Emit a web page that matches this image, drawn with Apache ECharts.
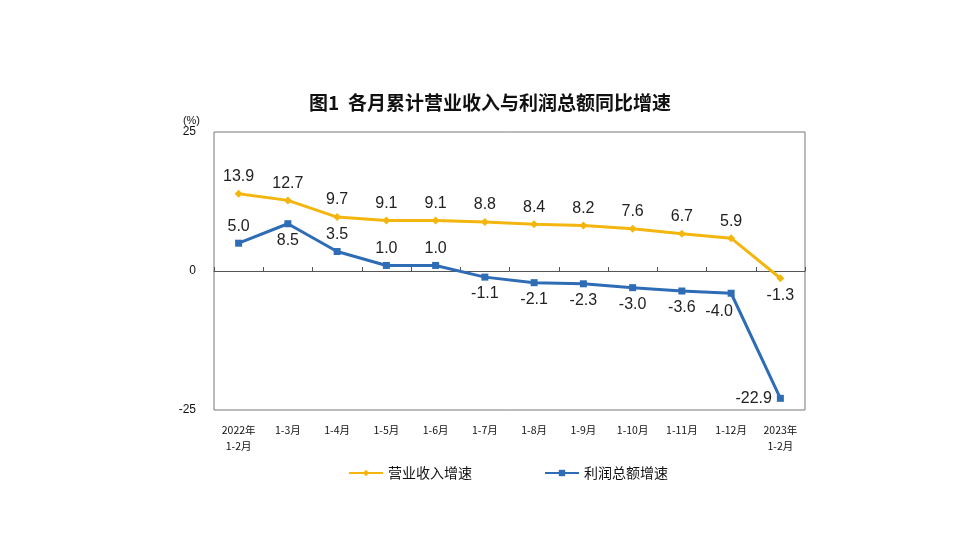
<!DOCTYPE html>
<html>
<head>
<meta charset="utf-8">
<script src="https://cdn.jsdelivr.net/npm/echarts@6/dist/echarts.min.js"></script>
<style>
  html, body { margin: 0; padding: 0; background: #fff; }
  #chart { width: 980px; height: 551px; }
</style>
</head>
<body>
<div id="chart"></div>
<script>
var categories = ["2022年\n1-2月", "1-3月", "1-4月", "1-5月", "1-6月", "1-7月", "1-8月", "1-9月", "1-10月", "1-11月", "1-12月", "2023年\n1-2月"]
var revenueGrowth = [13.9, 12.7, 9.7, 9.1, 9.1, 8.8, 8.4, 8.2, 7.6, 6.7, 5.9, -1.3]
var profitGrowth = [5.0, 8.5, 3.5, 1.0, 1.0, -1.1, -2.1, -2.3, -3.0, -3.6, -4.0, -22.9]
var yTicks = [-25, 0, 25]

// where each label sits relative to its point
var revenueLabelPos = ["top", "top", "top", "top", "top", "top", "top", "top", "top", "top", "top", "bottom"]
var profitLabelPos = ["top", "bottom", "top", "top", "top", "bottom", "bottom", "bottom", "bottom", "bottom", "bottom", "left"]

var font = "'Liberation Sans', Arial, 'Noto Sans CJK SC', sans-serif"
var cjk = "'Noto Sans CJK SC', sans-serif"

function withLabels(values, pos) {
    return values.map(function (v, i) {
        var item = { value: v, label: { position: pos[i] } }
        // -4.0 sits a little to the left of its point
        if (v === -4.0) item.label.offset = [-12, 2]
        return item
    })
}

var chart = echarts.init(document.getElementById("chart"))
chart.setOption({
    animation: false,
    title: {
        text: "图1  各月累计营业收入与利润总额同比增速",
        left: "center",
        top: 88,
        textStyle: { fontFamily: cjk, fontSize: 19, fontWeight: "bold", color: "#111" }
    },
    legend: {
        bottom: 66,
        left: 343,
        itemGap: 72,
        itemWidth: 34,
        itemHeight: 8,
        textStyle: { fontFamily: cjk, fontSize: 14, color: "#111" },
        data: ["营业收入增速", "利润总额增速"]
    },
    grid: {
        left: 214, right: 175, top: 132, bottom: 141,
        show: true,
        borderColor: "#777",
        borderWidth: 1
    },
    xAxis: [
        {
            type: "category",
            data: categories,
            position: "bottom",
            axisLine: { show: false, onZero: false },
            axisTick: { show: false },
            axisLabel: {
                interval: 0, margin: 12, color: "#111",
                fontFamily: cjk, fontSize: 10.5, lineHeight: 16
            }
        },
        {
            type: "category",
            data: categories,
            position: "bottom",
            axisLine: { show: true, onZero: true, lineStyle: { color: "#555", width: 1 } },
            axisTick: { show: true, interval: 0, inside: true, length: 4, lineStyle: { color: "#555" } },
            axisLabel: { show: false, interval: 0 }
        }
    ],
    yAxis: {
        type: "value",
        min: yTicks[0], max: yTicks[2], interval: 25,
        axisLine: { show: false },
        axisTick: { show: false },
        splitLine: { show: false },
        axisLabel: { color: "#111", fontFamily: font, fontSize: 12, margin: 18 },
        name: "(%)",
        nameGap: 6,
        nameTextStyle: { color: "#111", fontFamily: font, fontSize: 11, align: "right", padding: [0, 14, 0, 0] }
    },
    series: [
        {
            name: "营业收入增速",
            type: "line",
            data: withLabels(revenueGrowth, revenueLabelPos),
            symbol: "diamond",
            symbolSize: 8,
            color: "#F4B60E",
            lineStyle: { width: 3, color: "#F4B60E" },
            label: {
                show: true, distance: 5, color: "#222",
                fontFamily: font, fontSize: 16,
                formatter: function (p) { return p.value.toFixed(1) }
            }
        },
        {
            name: "利润总额增速",
            type: "line",
            data: withLabels(profitGrowth, profitLabelPos),
            symbol: "rect",
            symbolSize: 7,
            color: "#2E6CB6",
            lineStyle: { width: 3, color: "#2E6CB6" },
            label: {
                show: true, distance: 5, color: "#222",
                fontFamily: font, fontSize: 16,
                formatter: function (p) { return p.value.toFixed(1) }
            }
        }
    ]
})
</script>
</body>
</html>
